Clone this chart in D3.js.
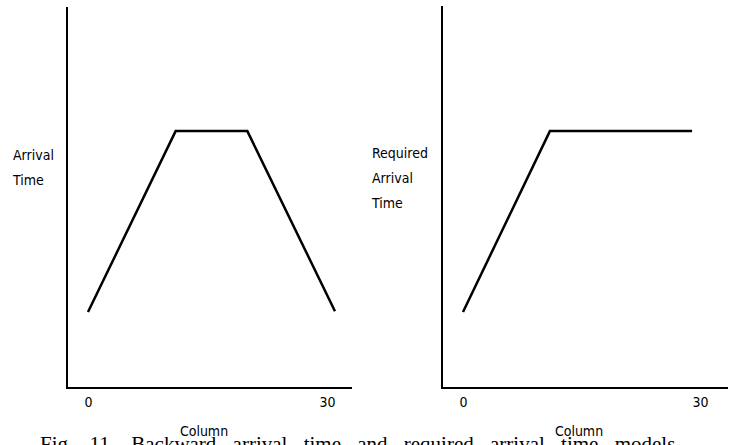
<!DOCTYPE html>
<html><head><meta charset="utf-8">
<script src="https://cdn.jsdelivr.net/npm/d3@7"></script>
<style>body{margin:0;background:#fff;overflow:hidden}svg{display:block}</style>
</head><body><svg id="c" width="738" height="445"></svg>
<script>
// Data (columns vs arbitrary time units)
const leftColumns = [0, 11, 20, 31];
const leftArrival = [20, 67.6, 67.6, 20.2];
const rightColumns = [0, 11, 29];
const rightRequired = [20, 67.6, 67.6];
const xTicks = [0, 30];
const leftYLabel = ["Arrival", "Time"];
const rightYLabel = ["Required", "Arrival", "Time"];
const xLabel = "Column";
const caption = "Fig. 11.  Backward arrival time and required arrival time models.";

const svg = d3.select("#c");
const font = "'DejaVu Sans Condensed','DejaVu Sans',sans-serif";

function panel(cfg) {
  const g = svg.append("g");
  const x = d3.scaleLinear().domain([0, 30]).range([cfg.x0, cfg.x30]);
  const y = d3.scaleLinear().domain([0, 100]).range([388, 8]);
  g.append("line").attr("x1", cfg.axisX).attr("x2", cfg.axisX).attr("y1", cfg.top).attr("y2", 389)
    .attr("stroke", "#000").attr("stroke-width", 2);
  g.append("line").attr("x1", cfg.axisX - 1).attr("x2", cfg.axisEnd).attr("y1", 388).attr("y2", 388)
    .attr("stroke", "#000").attr("stroke-width", 2);
  const ax = d3.axisBottom(x).tickValues(xTicks).tickSize(0).tickPadding(0).tickFormat(d3.format("d"));
  const axg = g.append("g").attr("transform", "translate(0,397)").call(ax);
  axg.select(".domain").remove();
  axg.selectAll("text").attr("font-family", font).attr("font-size", 14).attr("fill", "#000").attr("dy", "0.71em");
  const line = d3.line().x((d, i) => x(cfg.cols[i])).y(d => y(d));
  g.append("path").datum(cfg.vals).attr("d", line).attr("fill", "none")
    .attr("stroke", "#000").attr("stroke-width", 2.5).attr("stroke-linejoin", "miter");
  const t = g.append("text").attr("font-family", font).attr("font-size", 14).attr("fill", "#000");
  cfg.ylab.forEach((s, i) => t.append("tspan").attr("x", cfg.labX).attr("y", cfg.labY + i * 25).text(s));
  g.append("text").attr("x", cfg.colX).attr("y", 436).attr("text-anchor", "middle")
    .attr("font-family", font).attr("font-size", 14).attr("fill", "#000").text(xLabel);
}

panel({x0: 88, x30: 327, axisX: 67, axisEnd: 352, top: 7, cols: leftColumns, vals: leftArrival,
  ylab: leftYLabel, labX: 13, labY: 160, colX: 204});
panel({x0: 463, x30: 700, axisX: 442, axisEnd: 728, top: 6, cols: rightColumns, vals: rightRequired,
  ylab: rightYLabel, labX: 372, labY: 158, colX: 579});

svg.append("text").attr("x", 40).attr("y", 451).attr("font-family", "'Liberation Serif',serif")
  .attr("font-size", 21).attr("fill", "#000").attr("word-spacing", 11).text(caption);
</script></body></html>
